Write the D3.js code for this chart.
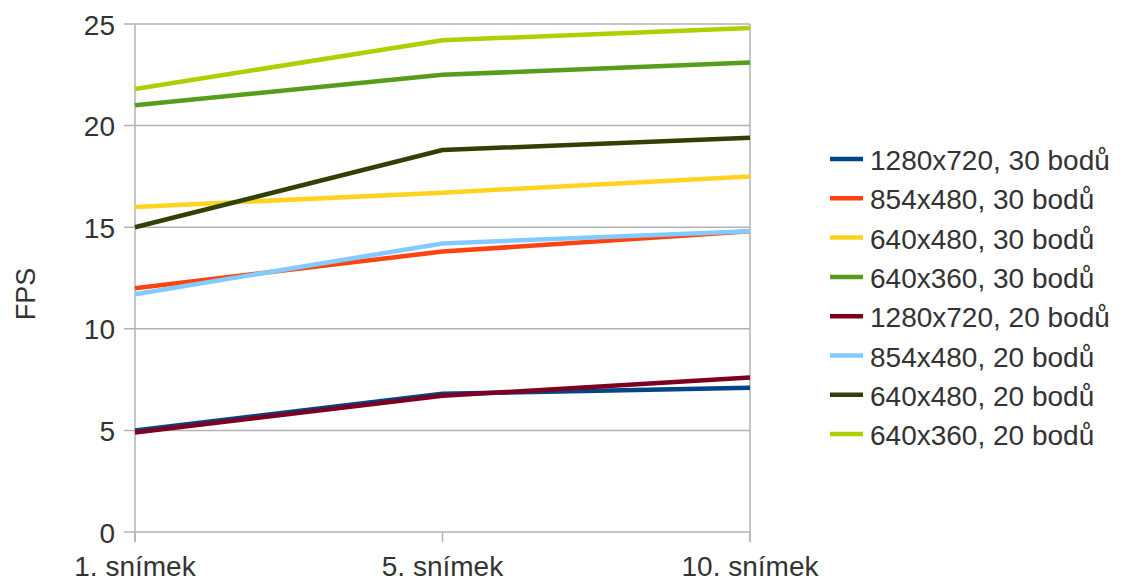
<!DOCTYPE html>
<html><head><meta charset="utf-8">
<script src="https://cdn.jsdelivr.net/npm/d3@7"></script>
<style>body{margin:0;background:#fff}svg{display:block}text{font-family:"Liberation Sans",Arial,sans-serif}</style>
</head><body><svg id="c" width="1127" height="582"></svg>
<script>
const categories = ["1. snímek", "5. snímek", "10. snímek"];
const seriesNames = ["1280x720, 30 bodů","854x480, 30 bodů","640x480, 30 bodů","640x360, 30 bodů","1280x720, 20 bodů","854x480, 20 bodů","640x480, 20 bodů","640x360, 20 bodů"];
const seriesColors = ["#004586","#ff420e","#ffd320","#579d1c","#7e0021","#83caff","#314004","#aecf00"];
const s1280_30 = [5.0, 6.8, 7.1];
const s854_30 = [12.0, 13.8, 14.8];
const s640x480_30 = [16.0, 16.7, 17.5];
const s640x360_30 = [21.0, 22.5, 23.1];
const s1280_20 = [4.9, 6.7, 7.6];
const s854_20 = [11.7, 14.2, 14.8];
const s640x480_20 = [15.0, 18.8, 19.4];
const s640x360_20 = [21.8, 24.2, 24.8];
const yTicks = [0, 5, 10, 15, 20, 25];
const yTitle = "FPS";
const allSeries = [s1280_30, s854_30, s640x480_30, s640x360_30, s1280_20, s854_20, s640x480_20, s640x360_20];

const svg = d3.select("#c");
const L = 135, R = 750, T = 24, B = 532;
const x = d3.scalePoint().domain(categories).range([L, R]);
const y = d3.scaleLinear().domain([0, 25]).range([B, T]);
const grid = "#b3b3b3";

svg.append("g").selectAll("line").data(yTicks).join("line")
  .attr("x1", L - 11).attr("x2", R).attr("y1", d => y(d)).attr("y2", d => y(d))
  .attr("stroke", grid).attr("stroke-width", 1.5);
svg.append("line").attr("x1", L).attr("x2", L).attr("y1", T).attr("y2", B + 10).attr("stroke", grid).attr("stroke-width", 1.5);
svg.append("line").attr("x1", R).attr("x2", R).attr("y1", T).attr("y2", B + 10).attr("stroke", grid).attr("stroke-width", 1.5);
svg.append("g").selectAll("line").data(categories).join("line")
  .attr("x1", d => x(d)).attr("x2", d => x(d)).attr("y1", B).attr("y2", B + 10)
  .attr("stroke", grid).attr("stroke-width", 1.5);
svg.append("g").selectAll("text").data(yTicks).join("text")
  .attr("x", 115).attr("y", d => y(d) + 10.5).attr("text-anchor", "end")
  .attr("font-size", 28).attr("fill", "#333").text(d => d);
svg.append("g").selectAll("text").data(categories).join("text")
  .attr("x", d => x(d)).attr("y", 576).attr("text-anchor", "middle")
  .attr("font-size", 28).attr("fill", "#333").text(d => d);
svg.append("text").attr("transform", "translate(35,294) rotate(-90)").attr("text-anchor", "middle")
  .attr("font-size", 27).attr("fill", "#333").text(yTitle);

const line = d3.line().x((d, i) => x(categories[i])).y(d => y(d));
svg.append("g").selectAll("path").data(allSeries).join("path")
  .attr("d", d => line(d)).attr("fill", "none")
  .attr("stroke", (d, i) => seriesColors[i]).attr("stroke-width", 4.5)
  .attr("stroke-linejoin", "round");

const lg = svg.append("g");
seriesNames.forEach((n, i) => {
  const yy = 159 + i * 39.3;
  lg.append("line").attr("x1", 830).attr("x2", 863).attr("y1", yy).attr("y2", yy)
    .attr("stroke", seriesColors[i]).attr("stroke-width", 4.5);
  lg.append("text").attr("x", 870).attr("y", yy + 11).attr("font-size", 28).attr("fill", "#333").text(n);
});
</script></body></html>
